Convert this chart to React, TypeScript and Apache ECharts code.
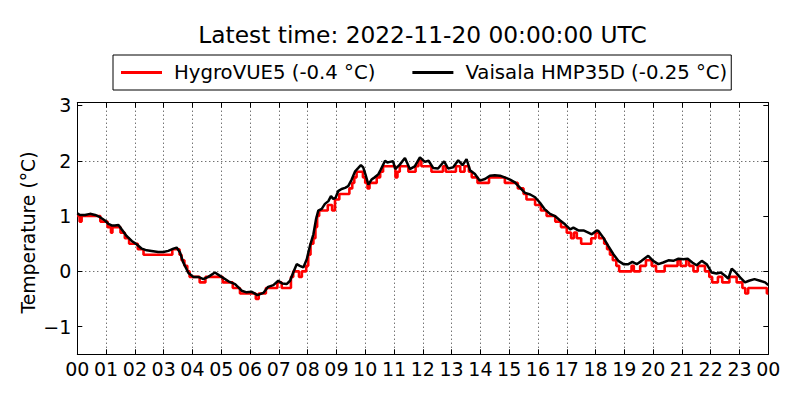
import React, { useEffect, useRef } from 'react';
import * as echarts from 'echarts';

const FONT = 'DejaVu Sans';
const TITLE = 'Latest time: 2022-11-20 00:00:00 UTC';
const SERIES_NAMES = ['HygroVUE5 (-0.4 °C)', 'Vaisala HMP35D (-0.25 °C)'];
const Y_LABEL = 'Temperature (°C)';
const Y_TICKS = [-1, 0, 1, 2, 3];

// Vaisala HMP35D (black), hours since 00 UTC
const blackHours = [
  0.0, 0.09, 0.27, 0.44, 0.62, 0.79, 0.96, 1.08, 1.19, 1.31, 1.43, 1.54, 1.71, 1.89, 2.06, 2.24, 2.41, 2.58, 2.81, 2.99,
  3.16, 3.34, 3.45, 3.57, 3.68, 3.86, 4.03, 4.2, 4.38, 4.55, 4.78, 5.01, 5.25, 5.48, 5.71, 5.88, 6.06, 6.26, 6.46, 6.63,
  6.81, 6.98, 7.12, 7.27, 7.39, 7.5, 7.62, 7.73, 7.85, 7.97, 8.08, 8.2, 8.29, 8.37, 8.49, 8.6, 8.72, 8.81, 8.89, 8.97,
  9.06, 9.18, 9.3, 9.41, 9.53, 9.65, 9.76, 9.85, 9.93, 10.01, 10.11, 10.22, 10.33, 10.45, 10.54, 10.69, 10.77, 10.86, 10.97, 11.04,
  11.2, 11.38, 11.55, 11.72, 11.9, 12.07, 12.2, 12.36, 12.53, 12.74, 12.88, 13.05, 13.23, 13.38, 13.52, 13.64, 13.81, 13.98, 14.16, 14.33,
  14.5, 14.68, 14.89, 15.03, 15.2, 15.38, 15.55, 15.73, 15.9, 16.07, 16.24, 16.42, 16.59, 16.77, 16.94, 17.12, 17.23, 17.4, 17.58, 17.75,
  17.87, 18.04, 18.1, 18.27, 18.44, 18.62, 18.79, 18.97, 19.14, 19.28, 19.43, 19.6, 19.83, 20.0, 20.18, 20.35, 20.53, 20.7, 20.88, 21.05,
  21.2, 21.36, 21.51, 21.69, 21.86, 22.03, 22.2, 22.35, 22.5, 22.61, 22.73, 22.87, 23.02, 23.19, 23.33, 23.52, 23.71, 23.89, 24.0,
];
const blackTemps = [
  1.05, 1.02, 1.02, 1.04, 1.02, 0.98, 0.92, 0.86, 0.83, 0.83, 0.84, 0.76, 0.64, 0.55, 0.49, 0.41, 0.38, 0.37, 0.35, 0.35,
  0.37, 0.41, 0.43, 0.34, 0.16, -0.03, -0.1, -0.1, -0.14, -0.1, -0.02, -0.1, -0.18, -0.23, -0.35, -0.38, -0.37, -0.43, -0.39, -0.28,
  -0.25, -0.17, -0.22, -0.23, -0.17, -0.02, 0.13, 0.1, 0.07, 0.22, 0.46, 0.67, 0.94, 1.1, 1.13, 1.22, 1.27, 1.36, 1.31, 1.33,
  1.45, 1.49, 1.51, 1.54, 1.66, 1.81, 1.87, 1.92, 1.88, 1.75, 1.57, 1.66, 1.7, 1.75, 1.84, 2.0, 1.97, 1.98, 1.99, 1.85,
  1.93, 2.05, 1.85, 1.9, 2.06, 1.98, 2.0, 1.87, 1.86, 1.99, 1.86, 1.88, 2.01, 1.92, 2.03, 1.83, 1.76, 1.64, 1.67, 1.73,
  1.74, 1.73, 1.69, 1.66, 1.61, 1.51, 1.42, 1.39, 1.34, 1.24, 1.12, 1.04, 1.0, 0.92, 0.85, 0.76, 0.79, 0.74, 0.74, 0.7,
  0.67, 0.74, 0.73, 0.61, 0.46, 0.31, 0.19, 0.13, 0.13, 0.17, 0.13, 0.19, 0.28, 0.19, 0.13, 0.16, 0.2, 0.19, 0.23, 0.22,
  0.23, 0.16, 0.11, 0.19, 0.13, -0.02, -0.04, -0.02, -0.08, -0.13, 0.05, -0.02, -0.11, -0.2, -0.17, -0.14, -0.17, -0.2, -0.25,
];

// HygroVUE5 (red), 0.1 °C resolution, value held until next change
const redHours = [
  0.0, 0.08, 0.15, 0.8, 1.05, 1.17, 1.22, 1.5, 1.65, 1.8, 2.1, 2.3, 3.3, 3.55, 3.62, 3.72, 3.82, 3.9, 4.25, 4.45,
  5.05, 5.4, 5.65, 6.2, 6.3, 6.55, 6.95, 7.1, 7.42, 7.5, 7.7, 7.8, 7.95, 8.02, 8.1, 8.2, 8.27, 8.33, 8.4, 8.7,
  8.85, 8.95, 9.1, 9.45, 9.55, 9.62, 9.7, 9.92, 10.0, 10.08, 10.15, 10.4, 10.52, 10.62, 11.05, 11.12, 11.2, 11.5, 11.75, 11.85,
  11.95, 12.3, 12.7, 12.8, 13.15, 13.3, 13.45, 13.6, 13.7, 13.9, 14.3, 14.85, 15.3, 15.5, 15.6, 15.9, 16.1, 16.3, 16.6, 16.8,
  17.0, 17.15, 17.25, 17.35, 17.5, 17.85, 18.0, 18.12, 18.3, 18.4, 18.5, 18.6, 18.72, 18.82, 19.25, 19.33, 19.55, 19.75, 19.95, 20.1,
  20.4, 20.85, 20.95, 21.15, 21.25, 21.4, 21.55, 21.8, 21.95, 22.05, 22.25, 22.4, 22.65, 22.9, 23.1, 23.2, 23.3, 23.95, 24.0,
];
const redTemps = [
  1.0, 0.9, 1.0, 0.9, 0.8, 0.7, 0.8, 0.7, 0.6, 0.5, 0.4, 0.3, 0.4, 0.3, 0.2, 0.1, 0.0, -0.1, -0.2, -0.1,
  -0.2, -0.3, -0.4, -0.5, -0.4, -0.3, -0.2, -0.3, -0.1, 0.0, -0.1, 0.0, 0.1, 0.3, 0.5, 0.6, 0.8, 1.0, 1.1, 1.2,
  1.1, 1.3, 1.4, 1.5, 1.6, 1.7, 1.8, 1.7, 1.6, 1.5, 1.6, 1.7, 1.8, 1.9, 1.7, 1.8, 1.9, 1.8, 1.9, 2.0,
  1.9, 1.8, 1.9, 1.8, 1.9, 1.8, 1.9, 1.8, 1.7, 1.6, 1.7, 1.6, 1.5, 1.4, 1.3, 1.2, 1.1, 1.0, 0.9, 0.8,
  0.7, 0.6, 0.7, 0.6, 0.5, 0.6, 0.7, 0.6, 0.5, 0.4, 0.3, 0.2, 0.1, 0.0, 0.1, 0.0, 0.1, 0.2, 0.1, 0.0,
  0.1, 0.2, 0.1, 0.2, 0.1, 0.0, 0.1, 0.0, -0.1, -0.2, -0.1, -0.2, -0.1, -0.2, -0.3, -0.4, -0.3, -0.4, -0.4,
];

const hourLabel = (v: number) => String(((Math.round(v) % 24) + 24) % 24).padStart(2, '0');
const tempLabel = (v: number) => (Number.isInteger(v) ? (v < 0 ? '\u2212' + Math.abs(v) : String(v)) : '');

export default function App() {
  const ref = useRef<HTMLDivElement>(null);
  useEffect(() => {
    document.body.style.margin = '0';
    if (!ref.current) return;
    const chart = echarts.init(ref.current, undefined, { renderer: 'svg' });
    const axisLine = { show: true, onZero: false, lineStyle: { color: '#000', width: 1 } };
    const tick = { show: true, inside: true, length: 5, lineStyle: { color: '#000', width: 1 } };
    const grid = { color: '#000', width: 0.8, type: [1, 3] as number[] };
    chart.setOption({
      animation: false,
      backgroundColor: '#fff',
      textStyle: { fontFamily: FONT },
      graphic: [
        {
          type: 'text',
          x: 422.5,
          y: 34,
          style: {
            text: TITLE,
            fontSize: 23.3,
            fontFamily: FONT,
            fill: '#000',
            textAlign: 'center',
            textVerticalAlign: 'middle',
          },
        },
        {
          type: 'text',
          x: 28,
          y: 232.5,
          rotation: Math.PI / 2,
          style: {
            text: Y_LABEL,
            fontSize: 18.8,
            fontFamily: FONT,
            fill: '#000',
            textAlign: 'center',
            textVerticalAlign: 'middle',
          },
        },
      ],
      legend: {
        show: true,
        left: 113,
        top: 55,
        orient: 'horizontal',
        icon: 'rect',
        itemWidth: 41,
        itemHeight: 3,
        itemGap: 37,
        padding: [7, 4, 7, 8],
        borderColor: '#000',
        borderWidth: 1,
        borderRadius: 0,
        selectedMode: false,
        textStyle: { fontSize: 19.7, fontFamily: FONT, color: '#000', lineHeight: 21, padding: [0, 0, 0, 7] },
        data: SERIES_NAMES,
      },
      grid: { left: 77.3, top: 102.7, right: 31.7, bottom: 45.7 },
      xAxis: [
        {
          type: 'value',
          min: 0,
          max: 24,
          interval: 1,
          position: 'bottom',
          axisLine,
          axisTick: tick,
          axisLabel: { formatter: hourLabel, fontSize: 19, fontFamily: FONT, color: '#000', margin: 5 },
          splitLine: { show: true, lineStyle: grid },
        },
        {
          type: 'value',
          min: 0,
          max: 24,
          interval: 1,
          position: 'top',
          axisLine,
          axisTick: tick,
          axisLabel: { show: false },
          splitLine: { show: false },
        },
      ],
      yAxis: [
        {
          type: 'value',
          min: -1.5,
          max: 3.05,
          interval: 0.5,
          position: 'left',
          axisLine,
          axisTick: { ...tick, customValues: Y_TICKS },
          axisLabel: {
            customValues: Y_TICKS,
            formatter: tempLabel,
            fontSize: 19,
            fontFamily: FONT,
            color: '#000',
            margin: 6,
          },
          splitLine: { show: true, lineStyle: { ...grid, color: ['rgba(0,0,0,0)', '#000'] } },
        },
        {
          type: 'value',
          min: -1.5,
          max: 3.05,
          interval: 0.5,
          position: 'right',
          axisLine,
          axisTick: { ...tick, customValues: Y_TICKS },
          axisLabel: { show: false },
          splitLine: { show: false },
        },
      ],
      series: [
        {
          type: 'line',
          name: SERIES_NAMES[0],
          xAxisIndex: 0,
          yAxisIndex: 0,
          data: redHours.map((h, i) => [h, redTemps[i]]),
          step: 'end',
          symbol: 'none',
          showSymbol: false,
          lineStyle: { color: '#ff0000', width: 2.6 },
          itemStyle: { color: '#ff0000' },
          z: 2,
        },
        {
          type: 'line',
          name: SERIES_NAMES[1],
          xAxisIndex: 0,
          yAxisIndex: 0,
          data: blackHours.map((h, i) => [h, blackTemps[i]]),
          symbol: 'none',
          showSymbol: false,
          lineStyle: { color: '#000000', width: 2.5 },
          itemStyle: { color: '#000000' },
          z: 3,
        },
      ],
    });
    return () => chart.dispose();
  }, []);
  return <div ref={ref} style={{ width: 800, height: 400 }} />;
}
